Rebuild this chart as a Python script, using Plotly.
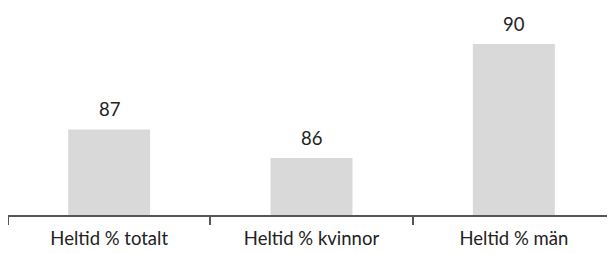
import plotly.graph_objects as go

categories = ["Heltid % totalt", "Heltid % kvinnor", "Heltid % män"]
values = [87, 86, 90]
value_labels = ["87", "86", "90"]

FONT = "Lato"
FS = 18.5

fig = go.Figure()
fig.add_trace(go.Bar(
    x=categories, y=values, width=0.405,
    marker=dict(color="#d9d9d9", line=dict(width=0)),
    hoverinfo="skip",
))

for c, v, t in zip(categories, values, value_labels):
    fig.add_annotation(x=c, y=v, text=t, showarrow=False, yanchor="bottom",
                       yshift=7, font=dict(family=FONT, size=FS, color="#222222"))

# page body has an 8px margin; figure is sized to the visible area
fig.update_layout(
    width=607, height=245,
    margin=dict(l=0, r=0, t=0, b=38, autoexpand=False),
    paper_bgcolor="white", plot_bgcolor="white",
    showlegend=False,
    font=dict(family=FONT, size=FS, color="#222222"),
)
fig.update_xaxes(
    type="category", range=[-0.5, 2.5], automargin=False,
    showline=True, linecolor="#555555", linewidth=1.5,
    ticks="outside", tickson="boundaries", ticklen=8, tickcolor="#555555", tickwidth=1.5,
    ticklabelstandoff=6, showgrid=False, zeroline=False,
    tickfont=dict(family=FONT, size=FS, color="#222222"),
)
fig.update_yaxes(range=[84, 91.26], visible=False, showgrid=False, zeroline=False, automargin=False)

fig.write_html("out.html")
